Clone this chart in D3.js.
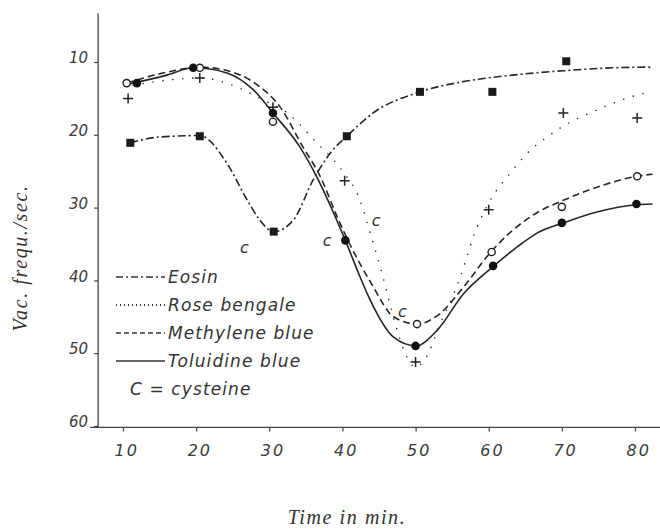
<!DOCTYPE html>
<meta charset="utf-8">
<style>
  body { margin: 0; background: #fff; }
  .axis .domain { display: none; }
  .axis .tick line { stroke: #444; stroke-width: 1.2; }
  .axis text { font-family: "DejaVu Sans", sans-serif; font-style: italic; fill: #3a3a3a; }
  .curve { fill: none; stroke: #262626; stroke-width: 1.6; }
  .legend text { font-family: "DejaVu Sans", sans-serif; font-style: italic; font-size: 17px; fill: #333; letter-spacing: 1.1px; }
  .title { font-family: "Liberation Serif", serif; font-style: italic; font-size: 20px; fill: #333; letter-spacing: 1.6px; }
</style>
<svg width="660" height="532"></svg>
<script src="https://cdn.jsdelivr.net/npm/d3@7"></script>
<script>
  var xTicks = [10, 20, 30, 40, 50, 60, 70, 80];
  var yTicks = [10, 20, 30, 40, 50, 60];

  // measured points (time, frequency)
  var eosinPts = [[11, 21.1], [20.5, 20.2], [30.6, 33.3], [40.6, 20.2], [50.6, 14.1], [60.5, 14.1], [70.6, 9.9]];
  var rosePts = [[10.7, 15.0], [20.5, 12.2], [30.5, 16.2], [40.3, 26.3], [50, 51.2], [60, 30.3], [70.2, 17.0], [80.3, 17.7]];
  var methylenePts = [[10.5, 12.9], [20.5, 10.8], [30.5, 18.2], [50.2, 46], [60.4, 36.1], [70, 29.9], [80.3, 25.7]];
  var toluidinePts = [[11.9, 12.9], [19.6, 10.8], [30.5, 17], [40.4, 34.5], [50, 49], [60.6, 38], [70, 32.1], [80.2, 29.5]];

  // hand-drawn fitted curves
  var eosinCurve = [[11, 21.1], [15, 20.3], [20.5, 20.1], [24.2, 23.9], [27, 29], [28.7, 31.7], [30.6, 33.3],
    [33.3, 31.7], [36, 26.2], [38.5, 22.3], [40.6, 20.2], [44.2, 17.0], [50.6, 14.1], [56.5, 12.7],
    [63.3, 11.8], [70.2, 11.2], [77, 10.8], [82.4, 10.7]];
  var roseCurve = [[11.4, 13.2], [16, 12.5], [20.5, 12.2], [25, 13.2], [29.7, 15.5], [31.9, 16.6], [36.5, 21.1],
    [40.1, 25.1], [42.4, 29], [43.8, 33.5], [45.4, 39], [47.2, 45.9], [48.8, 50.5], [50, 51.9], [51.3, 50.8],
    [53.4, 45.9], [55.8, 40.4], [58.4, 32.7], [60.2, 29], [63, 25.2], [65.7, 22.1], [68, 20.3], [70.2, 18.8],
    [74.8, 16.6], [79.4, 14.8], [82.4, 14]];
  var methyleneCurve = [[10.5, 12.9], [16, 11.4], [20.5, 10.7], [25, 11.4], [28.7, 13.4], [31.5, 16.2], [34.5, 21.5],
    [37, 25.8], [39.3, 31.3], [41, 35], [44, 40.5], [47, 45], [50.2, 46], [53.4, 44.5], [56.5, 41], [60.2, 36.2],
    [63.3, 33.1], [66.6, 30.7], [70.2, 29], [74.8, 27.2], [80.2, 25.7], [82.4, 25.4]];
  var toluidineCurve = [[10.5, 13.1], [16, 11.8], [19.6, 10.8], [24.2, 11.5], [27.8, 13.8], [30.5, 17], [34.2, 21.7],
    [36.5, 25.8], [40.4, 34.5], [42.4, 39.5], [43.8, 42.7], [47, 47.8], [50, 49], [53, 46.8], [56.5, 41.9],
    [60.6, 38.1], [63.9, 35.4], [66.6, 33.5], [70.2, 32.1], [74.8, 30.6], [80.2, 29.6], [82.4, 29.5]];

  // "c" = cysteine marks
  var cysteineMarks = [[26.6, 35.5], [37.9, 34.5], [44.6, 31.7], [48.2, 44.2]];

  var legendNames = ["Eosin", "Rose bengale", "Methylene blue", "Toluidine blue"];
  var dashes = ["8,3,2,3", "0,10", "7,4", null];

  var svg = d3.select("svg");
  var x = d3.scaleLinear().domain([10, 80]).range([123, 635]);
  var y = d3.scaleLinear().domain([10, 60]).range([62, 426]);

  var line = d3.line()
    .curve(d3.curveMonotoneX)
    .x(function(d) { return x(d[0]); })
    .y(function(d) { return y(d[1]); });

  // axes
  svg.append("line")
    .attr("x1", x(6.6)).attr("x2", x(6.6))
    .attr("y1", y(3.3)).attr("y2", y(60.2))
    .attr("stroke", "#444").attr("stroke-width", 1.3);
  svg.append("line")
    .attr("x1", x(5.5)).attr("x2", x(83.5))
    .attr("y1", y(60.2)).attr("y2", y(60.2))
    .attr("stroke", "#444").attr("stroke-width", 1.3);

  svg.append("g")
    .attr("class", "axis")
    .attr("transform", "translate(" + x(6.6) + ",0)")
    .call(d3.axisLeft(y).tickValues(yTicks).tickSize(4).tickPadding(6))
    .selectAll("text")
    .attr("font-size", 15)
    .attr("dy", "0.05em");

  svg.append("g")
    .attr("class", "axis")
    .attr("transform", "translate(0," + y(60.2) + ")")
    .call(d3.axisBottom(x).tickValues(xTicks).tickSize(4).tickPadding(13))
    .selectAll("text")
    .attr("font-size", 16)
    .attr("dx", "0.2em")
    .style("letter-spacing", "2px");

  // curves
  [eosinCurve, roseCurve, methyleneCurve, toluidineCurve].forEach(function(c, i) {
    var p = svg.append("path")
      .datum(c)
      .attr("class", "curve")
      .attr("d", line);
    if (dashes[i]) p.attr("stroke-dasharray", dashes[i]);
    if (i === 1) p.attr("stroke-linecap", "round").attr("stroke-width", 2.7).attr("stroke", "#3a3a3a");
  });

  // markers
  svg.selectAll(".sq").data(eosinPts).enter().append("rect")
    .attr("x", function(d) { return x(d[0]) - 4; })
    .attr("y", function(d) { return y(d[1]) - 4; })
    .attr("width", 8).attr("height", 8)
    .attr("fill", "#1a1a1a");

  svg.selectAll(".pl").data(rosePts).enter().append("path")
    .attr("d", function(d) {
      var cx = x(d[0]), cy = y(d[1]);
      return "M" + (cx - 5) + "," + cy + "H" + (cx + 5) + "M" + cx + "," + (cy - 5) + "V" + (cy + 5);
    })
    .attr("stroke", "#222").attr("stroke-width", 1.5);

  svg.selectAll(".oc").data(methylenePts).enter().append("circle")
    .attr("cx", function(d) { return x(d[0]); })
    .attr("cy", function(d) { return y(d[1]); })
    .attr("r", 3.6)
    .attr("fill", "#fff").attr("stroke", "#222").attr("stroke-width", 1.4);

  svg.selectAll(".fc").data(toluidinePts).enter().append("circle")
    .attr("cx", function(d) { return x(d[0]); })
    .attr("cy", function(d) { return y(d[1]); })
    .attr("r", 4.3)
    .attr("fill", "#111");

  svg.selectAll(".cy").data(cysteineMarks).enter().append("text")
    .attr("x", function(d) { return x(d[0]); })
    .attr("y", function(d) { return y(d[1]); })
    .attr("dy", "0.35em")
    .attr("text-anchor", "middle")
    .attr("font-family", "DejaVu Sans, sans-serif")
    .attr("font-style", "italic")
    .attr("font-size", 16)
    .attr("fill", "#333")
    .text("c");

  // legend
  var legend = svg.append("g").attr("class", "legend");
  legendNames.forEach(function(name, i) {
    var ly = 277 + i * 28;
    var l = legend.append("line")
      .attr("x1", 116).attr("x2", 165)
      .attr("y1", ly).attr("y2", ly)
      .attr("stroke", "#333").attr("stroke-width", i === 1 ? 1.8 : 1.3);
    if (dashes[i]) l.attr("stroke-dasharray", i === 1 ? "1,3" : (i === 0 ? "7,3,2,3" : "5,3"));
    legend.append("text")
      .attr("x", 168).attr("y", ly)
      .attr("dy", "0.35em")
      .text(name);
  });
  legend.append("text")
    .attr("x", 130).attr("y", 389)
    .attr("dy", "0.35em")
    .text("C = cysteine");

  // titles
  svg.append("text")
    .attr("class", "title")
    .attr("x", 347).attr("y", 524)
    .attr("text-anchor", "middle")
    .text("Time in min.");
  svg.append("text")
    .attr("class", "title")
    .attr("transform", "translate(27,258) rotate(-90)")
    .attr("text-anchor", "middle")
    .text("Vac. frequ./sec.");
</script>
